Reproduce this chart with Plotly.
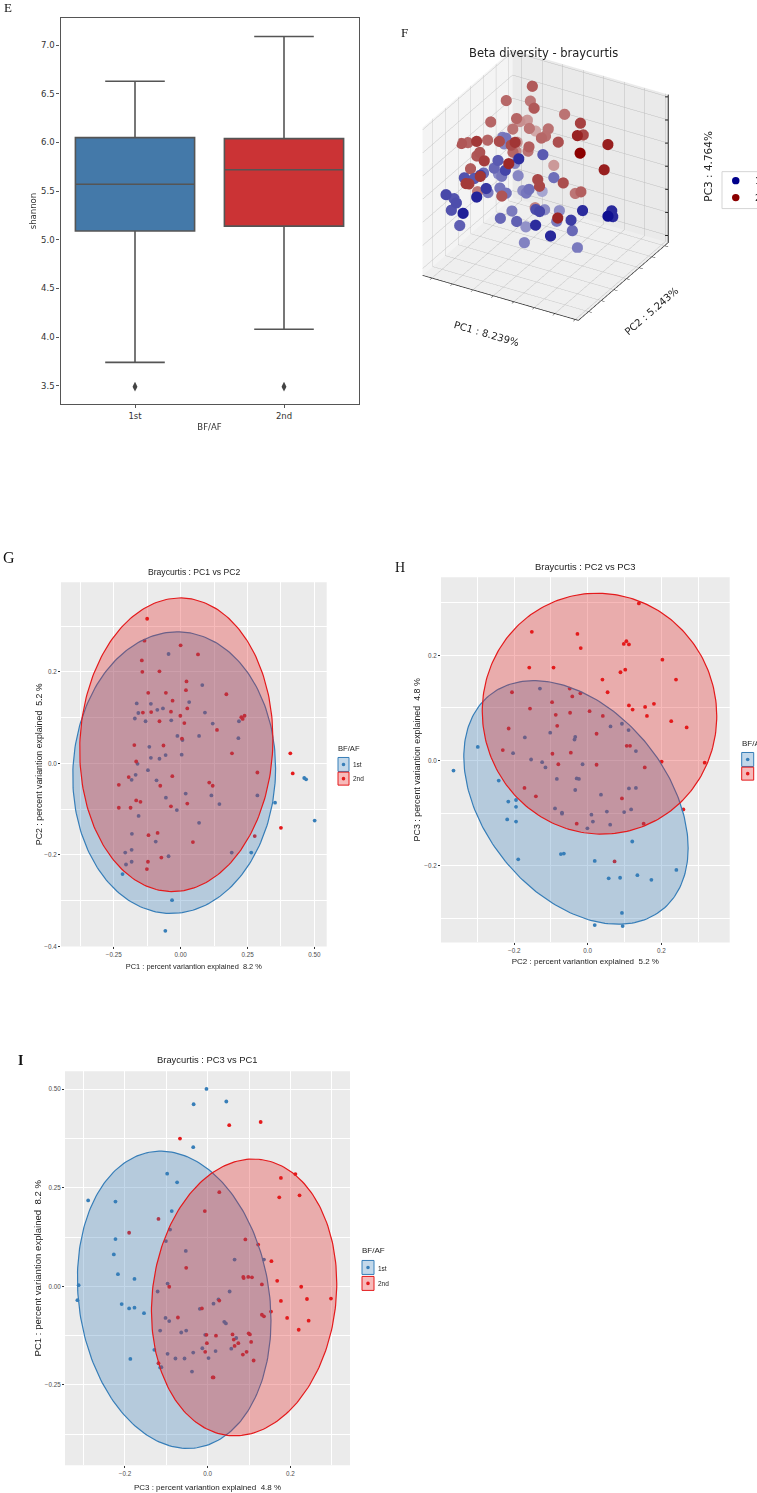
import numpy as np
import plotly.graph_objects as go

W, H = 757, 1493

# ---------- Panel E: shannon box plot ----------
box_groups = ["1st", "2nd"]
box_q1 = [5.09, 5.14]
box_median = [5.57, 5.72]
box_q3 = [6.05, 6.04]
box_low = [3.74, 4.08]
box_high = [6.63, 7.09]
box_outlier = [3.49, 3.49]
box_fill = ["#4479A9", "#CB3335"]

# ---------- Panel G: PC1 vs PC2 ----------
g1_x = [-.045,.081,-.164,-.111,.032,-.066,-.087,-.158,.091,-.171,-.131,-.035,.120,.218,-.012,.069,.216,.007,-.117,-.111,-.079,-.056,.004,-.161,-.122,-.168,-.183,-.090,.019,.115,.287,-.055,.145,.353,-.014,.462,.469,.501,-.157,.069,-.182,-.093,-.183,-.207,.191,.264,-.045,-.183,-.204,-.217,-.032,-.057]
g1_y = [.239,.171,.131,.130,.134,.120,.117,.110,.111,.098,.092,.094,.087,.092,.060,.060,.055,.051,.036,.012,.010,.018,.019,-.001,-.015,-.025,-.036,-.037,-.066,-.070,-.070,-.075,-.089,-.086,-.102,-.032,-.035,-.125,-.115,-.130,-.154,-.171,-.189,-.195,-.195,-.195,-.203,-.215,-.221,-.242,-.299,-.366]
g2_x = [-.125,-.135,.000,.065,-.145,-.143,-.079,.022,.020,-.121,-.055,.171,-.030,.025,-.141,-.110,-.036,-.001,.239,.227,.232,-.079,.014,.136,.005,-.173,-.064,.192,-.166,.410,.419,.287,-.194,-.031,-.231,-.076,.107,.120,-.166,-.150,.025,-.231,-.187,-.036,.375,-.086,-.120,.277,.046,-.072,-.122,-.126]
g2_y = [.316,.268,.258,.238,.225,.200,.201,.179,.160,.154,.154,.151,.137,.120,.111,.112,.113,.104,.104,.101,.097,.092,.088,.073,.054,.040,.039,.022,.004,.022,-.022,-.020,-.030,-.028,-.047,-.049,-.042,-.049,-.081,-.084,-.088,-.097,-.097,-.094,-.141,-.152,-.157,-.159,-.172,-.206,-.215,-.231]

# ---------- Panel H: PC2 vs PC3 ----------
h1_x = [-.130,-.102,.062,.093,.111,-.171,-.034,-.036,-.299,-.203,.131,-.154,-.124,-.115,-.014,-.365,-.242,-.084,-.030,-.024,-.034,.112,.131,.036,-.216,-.195,-.195,-.089,-.070,-.070,.052,.099,.118,.010,-.219,-.195,.014,.061,-.001,.121,-.073,-.065,-.189,.019,.057,.088,.135,.173,.241,.093,.019,.095]
h1_y = [.137,.053,.065,.070,.058,.044,.045,.040,.026,.014,.018,.002,-.003,-.013,-.007,-.019,-.038,-.035,-.034,-.035,-.056,-.053,-.052,-.065,-.078,-.075,-.088,-.091,-.099,-.101,-.097,-.098,-.093,-.103,-.112,-.116,-.116,-.122,-.129,-.154,-.178,-.177,-.188,-.191,-.224,-.223,-.218,-.227,-.208,-.290,-.313,-.315]
h2_x = [.139,-.152,-.028,-.019,.098,.105,.112,.203,-.159,-.093,.102,.089,.040,.240,.054,-.049,-.206,-.042,-.020,-.097,.112,.156,.180,-.157,.122,-.048,.005,-.087,.041,.161,.227,-.083,.269,-.215,.024,.106,.115,-.231,-.096,-.046,.201,.318,-.080,.024,.155,-.172,-.141,.093,.260,-.030,.152,.073]
h2_y = [.299,.245,.241,.214,.222,.227,.221,.192,.177,.177,.173,.168,.154,.154,.130,.137,.130,.122,.128,.111,.105,.102,.108,.099,.097,.091,.094,.087,.085,.085,.075,.066,.063,.061,.051,.028,.028,.020,.013,.015,-.002,-.004,-.007,-.008,-.013,-.052,-.068,-.072,-.093,-.120,-.120,-.192]

# ---------- Panel I: PC3 vs PC1 ----------
i1_x = [-.003,.045,-.034,-.035,-.098,-.074,-.289,-.223,-.087,-.091,-.223,-.101,-.053,-.227,.065,.136,-.217,-.177,-.097,-.312,-.121,.053,-.315,-.208,-.190,-.177,-.154,.026,.014,-.019,-.102,-.093,.040,.044,-.115,-.064,-.052,-.006,.069,.057,-.129,-.013,-.097,-.035,.019,-.187,-.078,-.056,.002,-.115,-.112,-.038]
i1_y = [.501,.469,.462,.353,.286,.264,.218,.215,.191,.144,.120,.115,.090,.081,.068,.068,.031,.019,.007,.003,-.013,-.013,-.035,-.045,-.056,-.054,-.068,-.033,-.044,-.057,-.080,-.088,-.090,-.094,-.112,-.117,-.112,-.123,-.131,-.158,-.161,-.157,-.171,-.168,-.164,-.184,-.183,-.183,-.182,-.206,-.205,-.216]
i2_x = [.128,.052,-.067,.212,.177,.222,.173,.028,-.007,-.119,-.190,.091,.122,.154,-.052,.086,.087,.098,.107,.168,.131,.226,-.093,.240,.298,.177,.028,.153,-.014,-.072,.131,.136,.192,.244,.220,-.003,.020,.060,.099,.102,.063,-.002,.105,.074,.065,-.006,.094,.085,.111,-.119,.014,.012]
i2_y = [.417,.409,.375,.285,.275,.231,.226,.239,.191,.171,.136,.119,.106,.064,.047,.024,.021,.024,.023,.014,.005,-.001,-.001,-.032,-.031,-.037,-.036,-.064,-.056,-.079,-.072,-.076,-.080,-.087,-.110,-.123,-.125,-.122,-.119,-.122,-.135,-.144,-.141,-.144,-.151,-.166,-.166,-.173,-.188,-.195,-.231,-.231]

# Ellipse read-offs: centre x, centre y, half width, half height, skew (rad)
g1_ell = (-.024, -.0203, .379, .3077, .03)
g2_ell = (-.016, .0406, .361, .3208, .04)
h1_ell = (-.032, -.0797, .305, .2317, -.385)
h2_ell = (.032, .0892, .3188, .2292, -.02)
i1_ell = (-.081, -.034, .234, .377, -.14)
i2_ell = (.088, -.028, .224, .351, .10)

BLUE, RED = "#377EB8", "#E41A1C"
BLUE_A, RED_A = "rgba(55,126,184,0.3)", "rgba(228,26,28,0.3)"


def xd(l, r):
    return [l / W, r / W]


def yd(t, b):
    return [1 - b / H, 1 - t / H]


fig = go.Figure()

# E boxes
for g, q1, m, q3, lo, hi, out, c in zip(box_groups, box_q1, box_median, box_q3, box_low, box_high, box_outlier, box_fill):
    fig.add_trace(go.Box(x=[g], q1=[q1], median=[m], q3=[q3], lowerfence=[lo], upperfence=[hi],
                         width=0.8, whiskerwidth=0.5, fillcolor=c, boxpoints=False,
                         line=dict(color="#555555", width=1.6), showlegend=False, hoverinfo="skip",
                         xaxis="x", yaxis="y"))
    fig.add_trace(go.Scatter(x=[g], y=[out], mode="markers", showlegend=False, hoverinfo="skip",
                             marker=dict(symbol="diamond-tall", size=7, color="#444444"),
                             xaxis="x", yaxis="y"))


def panel(x1, y1, x2, y2, e1, e2, ax):
    for x, y, c in ((x1, y1, BLUE), (x2, y2, RED)):
        fig.add_trace(go.Scatter(x=x, y=y, mode="markers", marker=dict(size=3.8, color=c),
                                 showlegend=False, hoverinfo="skip", xaxis="x" + ax, yaxis="y" + ax))
    t = np.linspace(0, 2 * np.pi, 241)
    for e, c, a in ((e1, BLUE, BLUE_A), (e2, RED, RED_A)):
        cx, cy, rx, ry, d = e
        fig.add_trace(go.Scatter(x=cx + rx * np.cos(t), y=cy + ry * np.sin(t + d), mode="lines",
                                 fill="toself", fillcolor=a, line=dict(color=c, width=1.2),
                                 showlegend=False, hoverinfo="skip", xaxis="x" + ax, yaxis="y" + ax))


panel(g1_x, g1_y, g2_x, g2_y, g1_ell, g2_ell, "2")
panel(h1_x, h1_y, h2_x, h2_y, h1_ell, h2_ell, "3")
panel(i1_x, i1_y, i2_x, i2_y, i1_ell, i2_ell, "4")

# ---------- Panel F: 3D, joined from the PC2 values shared by G and H ----------


def join(gx, gy, hx, hy):
    free = list(range(len(hx)))
    pc3 = []
    for v in gy:
        j = min(free, key=lambda k: abs(hx[k] - v))
        free.remove(j)
        pc3.append(hy[j])
    return np.array(gx), np.array(gy), np.array(pc3)


p1 = join(g1_x, g1_y, h1_x, h1_y)
p2 = join(g2_x, g2_y, h2_x, h2_y)
xr, yr, zr = (-.245, .515), (-.38, .33), (-.33, .31)


def depth(p):
    return ((p[0] - xr[0]) / (xr[1] - xr[0]) * .433 - (p[1] - yr[0]) / (yr[1] - yr[0]) * .75
            + (p[2] - zr[0]) / (zr[1] - zr[0]) * .375)


_d = np.concatenate([depth(p1), depth(p2)])
D0, D1 = _d.min(), _d.max()


def depth_colors(p, rgb):
    a = .3 + .7 * (depth(p) - D0) / (D1 - D0)
    return [f"rgb({int(rgb[0]*v+240*(1-v))},{int(rgb[1]*v+240*(1-v))},{int(rgb[2]*v+240*(1-v))})" for v in a]


for p, rgb in ((p1, (0, 0, 139)), (p2, (139, 0, 0))):
    fig.add_trace(go.Scatter3d(x=p[0], y=p[1], z=p[2], mode="markers", showlegend=False, hoverinfo="skip",
                               marker=dict(size=6.5, color=depth_colors(p, rgb), line=dict(width=0)),
                               scene="scene"))

# z axis of panel F stands on the right-hand edge of the box
z_ticks = [-.3, -.2, -.1, 0, .1, .2, .3]
zx, zy, zz = [xr[1], xr[1]], [yr[1], yr[1]], list(zr)
for v in z_ticks:
    zx += [None, xr[1], xr[1] - .012]
    zy += [None, yr[1], yr[1] - .006]
    zz += [None, v, v]
fig.add_trace(go.Scatter3d(x=zx, y=zy, z=zz, mode="lines", line=dict(color="#222222", width=2),
                           showlegend=False, hoverinfo="skip", scene="scene"))


def scene_axis(rng, bg, line=True):
    return dict(range=rng, dtick=0.1, tick0=0, showticklabels=False, title=dict(text=""),
                backgroundcolor=bg, showbackground=True, gridcolor="#BEBEBE", gridwidth=1,
                zeroline=False, showline=line, linecolor="#222222", linewidth=1.5,
                ticks="outside" if line else "", ticklen=4, tickcolor="#222222", showspikes=False)


def gg_axis(dom, rng, dtick, minor, fmt, title, standoff, size, anchor):
    return dict(domain=dom, range=rng, dtick=dtick, tick0=0, tickformat=fmt, zeroline=False,
                showgrid=True, gridcolor="white", gridwidth=1, showline=False,
                minor=dict(dtick=minor, tick0=0, showgrid=True, gridcolor="white", gridwidth=0.5, ticklen=0),
                ticks="outside", ticklen=2, tickwidth=1, tickcolor="#333333",
                tickfont=dict(family="Liberation Sans", size=6.3, color="#4D4D4D"),
                title=dict(text=title, standoff=standoff, font=dict(family="Liberation Sans", size=size, color="#222222")),
                anchor=anchor)


R3 = 4.0
S3 = 1.24
layout = dict(
    width=W, height=H, margin=dict(l=0, r=0, t=0, b=0), paper_bgcolor="white", plot_bgcolor="white",
    boxmode="overlay",
    xaxis=dict(domain=xd(60.5, 358.5), type="category", range=[-.5, 1.5], showgrid=False, zeroline=False,
               showline=True, mirror=True, linecolor="#555555", linewidth=1.3, ticks="outside", ticklen=3,
               tickcolor="#555555", tickfont=dict(family="DejaVu Sans", size=8.5, color="#333333"),
               title=dict(text="BF/AF", standoff=4, font=dict(family="DejaVu Sans", size=8.5, color="#333333")),
               anchor="y"),
    yaxis=dict(domain=yd(18, 405), range=[3.31, 7.28], dtick=.5, tickformat=".1f", showgrid=False, zeroline=False,
               showline=True, mirror=True, linecolor="#555555", linewidth=1.3, ticks="outside", ticklen=3,
               tickcolor="#555555", tickfont=dict(family="DejaVu Sans", size=8.5, color="#333333"),
               title=dict(text="shannon", standoff=3, font=dict(family="DejaVu Sans", size=8.5, color="#333333")),
               anchor="x"),
    xaxis2=gg_axis(xd(61, 326.7), [-.447, .546], .25, .125, ".2f",
                   "PC1 : percent variantion explained\u00a0 8.2 %", 6.5, 7.4, "y2"),
    yaxis2=gg_axis(yd(583.3, 948.3), [-.4, .396], .2, .1, ".1f",
                   "PC2 : percent variantion explained\u00a0 5.2 %", 0, 8.8, "x2"),
    xaxis3=gg_axis(xd(441, 729.7), [-.399, .386], .2, .1, ".1f",
                   "PC2 : percent variantion explained\u00a0 5.2 %", 5, 8, "y3"),
    yaxis3=gg_axis(yd(578.3, 944.3), [-.346, .349], .2, .1, ".1f",
                   "PC3 : percent variantion explained\u00a0 4.8 %", 2, 8.9, "x3"),
    xaxis4=gg_axis(xd(65, 350), [-.345, .344], .2, .1, ".1f",
                   "PC3 : percent variantion explained\u00a0 4.8 %", 7.5, 8, "y4"),
    yaxis4=gg_axis(yd(1073.3, 1468.3), [-.454, .546], .25, .125, ".2f",
                   "PC1 : percent variantion explained\u00a0 8.2 %", 1, 9.6, "x4"),
    scene=dict(
        domain=dict(x=xd(385, 706), y=yd(40, 331)),
        xaxis=scene_axis(list(xr), "#F4F4F4"),
        yaxis=scene_axis(list(yr), "#EAEAEA"),
        zaxis=scene_axis(list(zr), "#EFEFEF", line=False),
        aspectmode="manual", aspectratio=dict(x=S3, y=S3, z=.95 * S3),
        camera=dict(eye=dict(x=.433 * R3, y=-.75 * R3, z=.5 * R3), center=dict(x=0, y=0, z=0), up=dict(x=0, y=0, z=1),
                    projection=dict(type="orthographic")),
    ),
)

ann, shapes = [], []

for ref in ("x2", "x3", "x4"):
    yref = "y" + ref[1:]
    shapes.append(dict(type="rect", xref=ref + " domain", yref=yref + " domain", x0=0, x1=1, y0=0, y1=1,
                       layer="below", line=dict(width=0), fillcolor="#EBEBEB"))


def text(x, y, s, family="Liberation Sans", size=8, color="#222222", anchor="center", angle=0, **kw):
    ann.append(dict(x=x / W, y=1 - y / H, xref="paper", yref="paper", text=s, showarrow=False, xanchor=anchor,
                    yanchor="middle", textangle=angle, font=dict(family=family, size=size, color=color), **kw))


def key(x0, x1, y0, y1, line, fill, dot):
    shapes.append(dict(type="rect", xref="paper", yref="paper", x0=x0 / W, x1=x1 / W, y0=1 - y0 / H, y1=1 - y1 / H,
                       line=dict(color=line, width=1), fillcolor=fill))
    c, m, r = (x0 + x1) / 2, (y0 + y1) / 2, 1.8
    shapes.append(dict(type="circle", xref="paper", yref="paper", x0=(c - r) / W, x1=(c + r) / W,
                       y0=1 - (m - r) / H, y1=1 - (m + r) / H, line=dict(width=0), fillcolor=dot))


# panel letters
text(8, 8, "E", "Liberation Serif", 13, "#111111")
text(404, 33, "F", "Liberation Serif", 13, "#111111")
text(9, 559, "G", "Liberation Serif", 16, "#111111")
text(400, 569, "H", "Liberation Serif", 14, "#111111")
text(20, 1063, "<b>I</b>", "Liberation Serif", 14, "#111111")

# titles
text(193.7, 573, "Braycurtis : PC1 vs PC2", size=8.6)
text(585, 568, "Braycurtis : PC2 vs PC3", size=9.4)
text(207, 1062, "Braycurtis : PC3 vs PC1", size=9.4)
text(543, 53, "Beta diversity - braycurtis", "DejaVu Sans", 11.5, "#222222")

# 3D axis labels
text(486, 334, "PC1 : 8.239%", "DejaVu Sans", 10, "#222222", angle=16)
text(651, 312, "PC2 : 5.243%", "DejaVu Sans", 10, "#222222", angle=-41)
text(708, 167, "PC3 : 4.764%", "DejaVu Sans", 10.5, "#222222", angle=-90)

# 3D legend
shapes.append(dict(type="rect", xref="paper", yref="paper", x0=722 / W, x1=770 / W, y0=1 - 172 / H, y1=1 - 209 / H,
                   line=dict(color="#D5D5D5", width=1), fillcolor="white"))
for yy, c in ((181, "#00008B"), (198, "#8B0000")):
    shapes.append(dict(type="circle", xref="paper", yref="paper", x0=732 / W, x1=739.5 / W,
                       y0=1 - (yy - 3.7) / H, y1=1 - (yy + 3.7) / H, line=dict(width=0), fillcolor=c))
text(753, 181, "1st", "DejaVu Sans", 9, anchor="left")
text(753, 198, "2nd", "DejaVu Sans", 9, anchor="left")

# ggplot legends
for tx, ty, tsz, kx0, kx1, k1, k2, lx, l1, l2 in (
    (335.5, 750, 7.6, 338, 349, (759, 773), (773.7, 786.7), 351, 766, 780),
    (739.5, 745, 8, 741.7, 753.7, (754, 768), (768.7, 781.7), None, None, None),
    (360, 1253, 8, 362, 374, (1263, 1277), (1279, 1293), 376, 1270.7, 1285.7),
):
    text(tx, ty, "BF/AF", size=tsz, anchor="left")
    key(kx0, kx1, k1[0], k1[1], BLUE, BLUE_A, BLUE)
    key(kx0, kx1, k2[0], k2[1], RED, RED_A, RED)
    if lx:
        text(lx, l1, "1st", size=6.5, anchor="left")
        text(lx, l2, "2nd", size=6.5, anchor="left")

layout["annotations"] = ann
layout["shapes"] = shapes
fig.update_layout(**layout)
fig.write_html("out.html", config=dict(displayModeBar=False), post_script="document.body.style.margin='0';")
